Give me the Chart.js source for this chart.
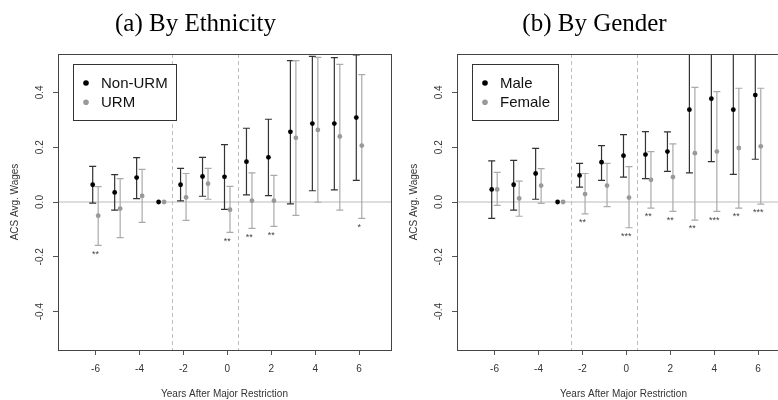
<!DOCTYPE html>
<html>
<head>
<meta charset="utf-8">
<script src="https://cdn.jsdelivr.net/npm/chart.js@4.4.1/dist/chart.umd.min.js"></script>
<style>
  html, body { margin: 0; padding: 0; background: #fff; }
  #wrap { position: relative; width: 778px; height: 400px; overflow: hidden; }
  #wrap canvas { position: absolute; top: 0; }
  #ethnicity { left: 0; }
  #gender { left: 399px; }
</style>
</head>
<body>
<div id="wrap">
  <canvas id="ethnicity" width="399" height="400"></canvas>
  <canvas id="gender" width="399" height="400"></canvas>
</div>
<script>
// years relative to the major restriction, and the axis ticks
const years = [-6, -5, -4, -3, -2, -1, 0, 1, 2, 3, 4, 5, 6];
const xTicks = [-6, -4, -2, 0, 2, 4, 6];
const yTicks = [-0.4, -0.2, 0, 0.2, 0.4];
const breaks = [-2.5, 0.5];

// (a) by ethnicity: point estimates and confidence bounds
const nonUrm   = [0.063, 0.035, 0.089, 0, 0.063, 0.093, 0.092, 0.147, 0.163, 0.256, 0.286, 0.286, 0.308];
const nonUrmLo = [-0.004, -0.030, 0.012, 0, 0.004, 0.021, -0.027, 0.026, 0.023, -0.007, 0.041, 0.044, 0.079];
const nonUrmHi = [0.130, 0.100, 0.162, 0, 0.123, 0.163, 0.209, 0.269, 0.302, 0.516, 0.531, 0.527, 0.537];
const urm      = [-0.050, -0.024, 0.022, 0, 0.017, 0.067, -0.028, 0.005, 0.005, 0.234, 0.263, 0.239, 0.206];
const urmLo    = [-0.158, -0.130, -0.074, 0, -0.067, 0.010, -0.111, -0.096, -0.089, -0.049, -0.001, -0.030, -0.060];
const urmHi    = [0.056, 0.085, 0.119, 0, 0.104, 0.123, 0.057, 0.106, 0.097, 0.516, 0.528, 0.502, 0.465];
const ethStars = ['**', '', '', '', '', '', '**', '**', '**', '', '', '', '*'];

// (b) by gender
const male     = [0.046, 0.063, 0.104, 0, 0.097, 0.145, 0.169, 0.173, 0.184, 0.337, 0.377, 0.337, 0.390];
const maleLo   = [-0.060, -0.030, 0.010, 0, 0.054, 0.079, 0.091, 0.085, 0.112, 0.106, 0.147, 0.101, 0.156];
const maleHi   = [0.150, 0.152, 0.196, 0, 0.141, 0.206, 0.246, 0.257, 0.256, 0.568, 0.607, 0.573, 0.624];
const female   = [0.046, 0.013, 0.060, 0, 0.029, 0.060, 0.016, 0.081, 0.091, 0.178, 0.184, 0.197, 0.203];
const femaleLo = [-0.012, -0.052, -0.005, 0, -0.043, -0.017, -0.094, -0.022, -0.034, -0.066, -0.034, -0.022, -0.008];
const femaleHi = [0.108, 0.076, 0.122, 0, 0.104, 0.141, 0.129, 0.184, 0.212, 0.418, 0.403, 0.415, 0.415];
const genStars = ['', '', '', '', '**', '', '***', '**', '**', '**', '***', '**', '***'];

const SANS = "'Liberation Sans', Arial, sans-serif";

function panel(id, title, groups, stars) {
  const datasets = groups.map(g => ({
    label: g.label,
    data: years.map((yr, i) => ({ x: yr + g.shift, y: g.y[i] })),
    lo: g.lo,
    hi: g.hi,
    barColor: g.bar,
    pointBackgroundColor: g.point,
    pointBorderColor: g.point,
    pointRadius: 2.4,
    pointBorderWidth: 0,
    showLine: false
  }));

  const decor = {
    id: 'decor',
    beforeDatasetsDraw(chart) {
      const { ctx, chartArea: a, scales: { x, y } } = chart;
      ctx.save();
      ctx.beginPath();
      ctx.rect(a.left, a.top, a.right - a.left, a.bottom - a.top);
      ctx.clip();

      // zero reference line
      const y0 = y.getPixelForValue(0);
      ctx.strokeStyle = '#d2d2d2';
      ctx.lineWidth = 1.5;
      ctx.beginPath();
      ctx.moveTo(a.left, y0);
      ctx.lineTo(a.right, y0);
      ctx.stroke();

      // dashed period separators
      ctx.strokeStyle = '#bdbdbd';
      ctx.lineWidth = 1;
      ctx.setLineDash([4, 3]);
      breaks.forEach(b => {
        const px = Math.round(x.getPixelForValue(b)) + 0.5;
        ctx.beginPath();
        ctx.moveTo(px, a.top);
        ctx.lineTo(px, a.bottom);
        ctx.stroke();
      });
      ctx.setLineDash([]);

      // confidence interval whiskers
      chart.data.datasets.forEach((ds, d) => {
        const meta = chart.getDatasetMeta(d);
        ctx.strokeStyle = ds.barColor;
        ctx.lineWidth = 1.2;
        meta.data.forEach((pt, i) => {
          if (ds.lo[i] === ds.hi[i]) return;
          const top = y.getPixelForValue(ds.hi[i]);
          const bot = y.getPixelForValue(ds.lo[i]);
          ctx.beginPath();
          ctx.moveTo(pt.x, top); ctx.lineTo(pt.x, bot);
          ctx.moveTo(pt.x - 3.5, top); ctx.lineTo(pt.x + 3.5, top);
          ctx.moveTo(pt.x - 3.5, bot); ctx.lineTo(pt.x + 3.5, bot);
          ctx.stroke();
        });
      });
      ctx.restore();
    },
    afterDatasetsDraw(chart) {
      const { ctx, chartArea: a, scales: { x, y } } = chart;
      const sets = chart.data.datasets;
      ctx.save();

      // significance stars under the lower bound
      ctx.fillStyle = '#444';
      ctx.font = '9px ' + SANS;
      ctx.textAlign = 'center';
      ctx.textBaseline = 'middle';
      stars.forEach((s, i) => {
        if (!s) return;
        const low = Math.min(...sets.map(ds => ds.lo[i]));
        ctx.fillText(s, x.getPixelForValue(years[i]), y.getPixelForValue(low - 0.032));
      });

      // plot frame
      ctx.strokeStyle = '#444';
      ctx.lineWidth = 1;
      ctx.strokeRect(Math.round(a.left) + 0.5, Math.round(a.top) + 0.5,
                     Math.round(a.right - a.left), Math.round(a.bottom - a.top));

      // legend box
      ctx.font = '15px ' + SANS;
      const textW = Math.max(...sets.map(ds => ctx.measureText(ds.label).width));
      const bx = a.left + 15, by = a.top + 10;
      const bw = 28 + textW + 8, bh = 56;
      ctx.fillStyle = '#fff';
      ctx.fillRect(bx, by, bw, bh);
      ctx.strokeStyle = '#333';
      ctx.strokeRect(Math.round(bx) + 0.5, Math.round(by) + 0.5, Math.round(bw), bh);
      ctx.textAlign = 'left';
      sets.forEach((ds, k) => {
        const ry = by + 19 + k * 19.3;
        ctx.fillStyle = ds.pointBackgroundColor;
        ctx.beginPath();
        ctx.arc(bx + 13, ry, 2.8, 0, Math.PI * 2);
        ctx.fill();
        ctx.fillStyle = '#111';
        ctx.fillText(ds.label, bx + 28, ry + 1);
      });
      ctx.restore();
    }
  };

  return new Chart(document.getElementById(id), {
    type: 'scatter',
    data: { datasets },
    plugins: [decor],
    options: {
      responsive: false,
      animation: false,
      events: [],
      layout: { padding: { left: 0, right: 8, top: 0, bottom: 0 } },
      plugins: {
        legend: { display: false },
        tooltip: { enabled: false },
        title: {
          display: true,
          text: title,
          color: '#000',
          font: { family: "'Liberation Serif', 'Times New Roman', serif", size: 25, weight: 'normal' },
          padding: { top: 9, bottom: 15 }
        }
      },
      scales: {
        x: {
          type: 'linear',
          min: -7.71,
          max: 7.45,
          afterBuildTicks: s => { s.ticks = xTicks.map(v => ({ value: v })); },
          afterFit: s => { s.height = 50; },
          grid: { drawOnChartArea: false, tickLength: 5, color: '#555' },
          border: { display: false },
          ticks: {
            color: '#333',
            font: { family: SANS, size: 10 },
            padding: 8,
            maxRotation: 0,
            callback: v => String(v)
          },
          title: {
            display: true,
            text: 'Years After Major Restriction',
            color: '#333',
            font: { family: SANS, size: 10 },
            padding: { top: 0, bottom: 0 }
          }
        },
        y: {
          min: -0.54,
          max: 0.54,
          afterBuildTicks: s => { s.ticks = yTicks.map(v => ({ value: v })); },
          afterFit: s => { s.width = 58; },
          grid: { drawOnChartArea: false, tickLength: 5, color: '#555' },
          border: { display: false },
          ticks: {
            color: '#333',
            font: { family: SANS, size: 10 },
            padding: 4,
            minRotation: 90,
            maxRotation: 90,
            crossAlign: 'center',
            callback: v => v.toFixed(1)
          },
          title: {
            display: true,
            text: 'ACS Avg. Wages',
            color: '#333',
            font: { family: SANS, size: 10 },
            padding: { top: 9, bottom: 0 }
          }
        }
      }
    }
  });
}

panel('ethnicity', '(a) By Ethnicity', [
  { label: 'Non-URM', y: nonUrm, lo: nonUrmLo, hi: nonUrmHi, point: '#000', bar: '#333', shift: -0.13 },
  { label: 'URM', y: urm, lo: urmLo, hi: urmHi, point: '#999', bar: '#aaa', shift: 0.12 }
], ethStars);

panel('gender', '(b) By Gender', [
  { label: 'Male', y: male, lo: maleLo, hi: maleHi, point: '#000', bar: '#333', shift: -0.13 },
  { label: 'Female', y: female, lo: femaleLo, hi: femaleHi, point: '#999', bar: '#aaa', shift: 0.12 }
], genStars);
</script>
</body>
</html>
